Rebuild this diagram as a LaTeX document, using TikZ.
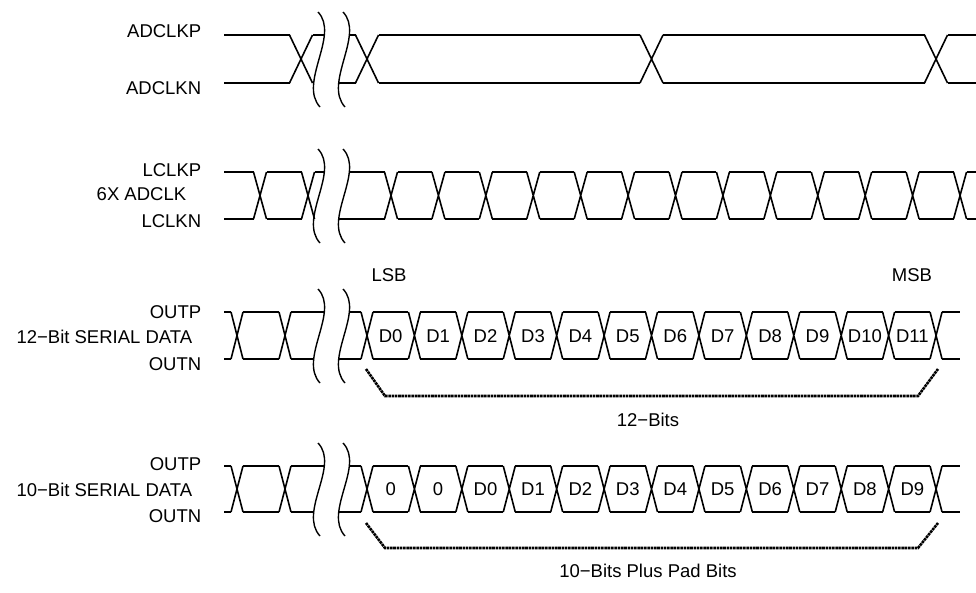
\documentclass[tikz,border=0pt]{standalone}
\usepackage{fontspec}
\setmainfont{Liberation Sans}
% crossings of a differential pair, with the rails between them
\newcommand{\xings}[6]{% top, bottom, half width, first x, pitch, last index
  \foreach \k in {0,...,#6}{
    \pgfmathsetmacro{\xc}{#4+\k*#5}
    \draw (\xc-#3,#1)--(\xc+#3,#2) (\xc-#3,#2)--(\xc+#3,#1);
    \ifnum\k<#6
      \draw (\xc+#3,#1)--(\xc+#5-#3,#1) (\xc+#3,#2)--(\xc+#5-#3,#2);
    \fi
  }}
% time break: two wavy cuts
\newcommand{\tbreak}[2]{%
  \draw[cut] (318,#1-23) .. controls (340,#1) and (298,#2) .. (320,#2+24);
  \draw[cut] (343,#1-23) .. controls (365,#1) and (323,#2) .. (345,#2+24);}
\begin{document}
\begin{tikzpicture}[x=1pt,y=-1pt,line width=1.6pt,
  lbl/.style={inner sep=0pt,text height=13pt,text depth=0pt,
    font=\fontsize{18.5}{21}\selectfont},
  cut/.style={line width=1.4pt},
  brace/.style={line width=2.6pt,dash pattern=on 2.6pt off 0.7pt}]
  \useasboundingbox (0,0) rectangle (976,592);
  \def\p{47.42}
  % ADCLK
  \draw (224,35)--(289.5,35) (224,83)--(289.5,83);
  \xings{35}{83}{11.5}{301}{48}{0}
  \draw (312.5,35)--(325,35) (312.5,83)--(314,83);
  \draw (350,35)--(355.5,35) (339,83)--(355.5,83);
  \xings{35}{83}{11.5}{367}{284.5}{2}
  \draw (947.5,35)--(976,35) (947.5,83)--(976,83);
  \tbreak{35}{83}
  % LCLK
  \draw (224,172)--(253.5,172) (224,219)--(253.5,219);
  \xings{172}{219}{6.5}{260}{48}{1}
  \draw (314.5,172)--(325,172);
  \draw (350,172)--(384.5,172) (339,219)--(384.5,219);
  \xings{172}{219}{6.5}{391}{\p}{12}
  \draw (966.5,172)--(976,172) (966.5,219)--(976,219);
  \tbreak{172}{219}
  % 12-bit data
  \draw (224,312)--(231,312) (224,359)--(231,359);
  \xings{312}{359}{6}{237}{48}{1}
  \draw (291,312)--(325,312) (291,359)--(314,359);
  \draw (350,312)--(361,312) (339,359)--(361,359);
  \xings{312}{359}{6}{367}{\p}{12}
  \draw (942,312)--(960,312) (942,359)--(960,359);
  \tbreak{312}{359}
  % 10-bit data
  \draw (224,466)--(231,466) (224,512)--(231,512);
  \xings{466}{512}{6}{237}{48}{1}
  \draw (291,466)--(325,466) (291,512)--(314,512);
  \draw (350,466)--(361,466) (339,512)--(361,512);
  \xings{466}{512}{6}{367}{\p}{12}
  \draw (942,466)--(960,466) (942,512)--(960,512);
  \tbreak{466}{512}
  % bit labels
  \foreach \k in {0,...,11}{
    \node[lbl] (d12\k) at ({367+(\k+0.5)*\p},335.5) {D\k};
  }
  \foreach \t [count=\k from 0] in {0,0,D0,D1,D2,D3,D4,D5,D6,D7,D8,D9}{
    \node[lbl] (d10\k) at ({367+(\k+0.5)*\p},489) {\t};
  }
  % signal names
  \node[lbl,anchor=east] (adp) at (202,31) {ADCLKP};
  \node[lbl,anchor=east] (adn) at (202,88) {ADCLKN};
  \node[lbl,anchor=east] (lcp) at (202,170) {LCLKP};
  \node[lbl,anchor=east] (lcx) at (187,194) {6X ADCLK};
  \node[lbl,anchor=east] (lcn) at (202,221) {LCLKN};
  \node[lbl,anchor=east] (op12) at (202,312) {OUTP};
  \node[lbl,anchor=east] (ser12) at (193,337) {12−Bit SERIAL DATA};
  \node[lbl,anchor=east] (on12) at (202,364) {OUTN};
  \node[lbl,anchor=east] (op10) at (202,464) {OUTP};
  \node[lbl,anchor=east] (ser10) at (193,490) {10−Bit SERIAL DATA};
  \node[lbl,anchor=east] (on10) at (202,516) {OUTN};
  \node[lbl] (lsb) at (389,275) {LSB};
  \node[lbl] (msb) at (912,275) {MSB};
  % word spans
  \coordinate (s12a) at (366,369);
  \coordinate (s12b) at (938,369);
  \draw[brace] (s12a)--(385,396)--(918,396)--(s12b);
  \node[lbl] (w12) at (648,420) {12−Bits};
  \coordinate (s10a) at (366,523);
  \coordinate (s10b) at (938,523);
  \draw[brace] (s10a)--(385,548)--(918,548)--(s10b);
  \node[lbl] (w10) at (648,571) {10−Bits Plus Pad Bits};
\end{tikzpicture}
\end{document}
